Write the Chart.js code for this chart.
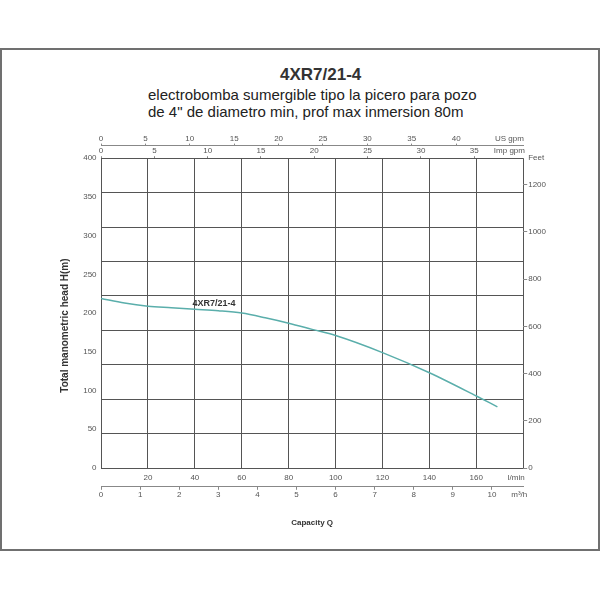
<!DOCTYPE html>
<html>
<head>
<meta charset="utf-8">
<script src="https://cdn.jsdelivr.net/npm/chart.js@4.4.0/dist/chart.umd.min.js"></script>
<style>
  html, body { margin: 0; padding: 0; background: #fff; }
  .page { position: relative; width: 600px; height: 600px; font-family: "Liberation Sans", Arial, sans-serif; }
  .frame { position: absolute; left: 0; top: 48px; width: 600px; height: 503px; border: 2px solid #707070; box-sizing: border-box; }
  .title { position: absolute; left: 280px; top: 66px; font-size: 17px; line-height: 17px; font-weight: bold; color: #333; white-space: nowrap; }
  .subtitle { position: absolute; left: 148px; top: 86px; font-size: 15px; line-height: 17px; color: #222; white-space: nowrap; }
  canvas { position: absolute; left: 0; top: 0; }
</style>
</head>
<body>
<div class="page">
  <div class="frame"></div>
  <div class="title">4XR7/21-4</div>
  <div class="subtitle">electrobomba sumergible tipo la picero para pozo<br>de 4" de diametro min, prof max inmersion 80m</div>
  <canvas id="curve" width="600" height="600"></canvas>
</div>
<script>
// pump curve
const flowLmin = [0, 10, 20, 30, 40, 50, 60, 70, 80, 90, 100, 120, 140, 160, 169];
const headM = [219, 213, 209, 207, 205, 203, 200, 194, 187, 179, 171, 149, 123, 93, 79];

// tick labels
const lminTicks = [0, 20, 40, 60, 80, 100, 120, 140, 160, 180];
const m3hTicks = [0, 1, 2, 3, 4, 5, 6, 7, 8, 9, 10];
const usGpmTicks = [0, 5, 10, 15, 20, 25, 30, 35, 40];
const impGpmTicks = [0, 5, 10, 15, 20, 25, 30, 35];
const headTicks = [0, 50, 100, 150, 200, 250, 300, 350, 400];
const feetTicks = [0, 200, 400, 600, 800, 1000, 1200];
const gridRows = 9;

const Q_MAX = 180;
const H_MAX = 400;
const L_PER_USGAL = 3.785;
const L_PER_IMPGAL = 4.546;
const FT_PER_M = 3.28084;

const GRID = '#555';
const FONT = '"Liberation Sans", Arial, sans-serif';

Chart.defaults.font.family = FONT;
Chart.defaults.font.size = 8;
Chart.defaults.color = '#555';

const setTicks = (values, unit) => (scale) => {
  scale.ticks = values.map((v) => ({ value: v }));
  if (unit) scale.ticks.push({ value: unit.at, unit: unit.text });
};
const unitLabel = (v, i, ticks) => ticks[i].unit || v;
const tickColor = (c) => (c.tick && c.tick.unit ? 'rgba(0,0,0,0)' : '#888');

const curveLabel = {
  id: 'curveLabel',
  afterDatasetsDraw(chart) {
    const { ctx, scales } = chart;
    ctx.save();
    ctx.font = `bold 9px ${FONT}`;
    ctx.fillStyle = '#333';
    ctx.textBaseline = 'middle';
    ctx.fillText('4XR7/21-4', scales.x.getPixelForValue(39), scales.y.getPixelForValue(213));
    ctx.restore();
  }
};

new Chart(document.getElementById('curve'), {
  type: 'line',
  data: {
    datasets: [{
      data: flowLmin.map((q, i) => ({ x: q, y: headM[i] })),
      xAxisID: 'x',
      yAxisID: 'y',
      borderColor: '#5aaeab',
      borderWidth: 1.5,
      pointRadius: 0,
      cubicInterpolationMode: 'monotone'
    }]
  },
  options: {
    responsive: false,
    animation: false,
    layout: { padding: { left: 50, right: 53, top: 134, bottom: 72 } },
    plugins: { legend: { display: false }, tooltip: { enabled: false } },
    scales: {
      x: {
        type: 'linear', position: 'bottom', weight: 1, min: 0, max: Q_MAX,
        afterBuildTicks: setTicks(lminTicks, { at: 177, text: 'l/min' }),
        ticks: {
          autoSkip: false, maxRotation: 0, padding: 4.6,
          callback: (v, i, t) => t[i].unit || (v === 0 || v === Q_MAX ? '' : v)
        },
        grid: { color: (c) => (c.tick && c.tick.unit ? 'rgba(0,0,0,0)' : GRID), drawTicks: false, tickLength: 0 },
        border: { display: false }
      },
      x4: {
        type: 'linear', position: 'bottom', weight: 2, min: 0, max: Q_MAX * 0.06,
        afterBuildTicks: setTicks(m3hTicks, { at: 10.7, text: 'm³/h' }),
        ticks: { autoSkip: false, maxRotation: 0, padding: 0, callback: unitLabel },
        grid: { drawOnChartArea: false, tickLength: 3, color: tickColor },
        border: { display: true, color: '#888' },
        title: { display: true, text: 'Capacity Q', color: '#333', font: { size: 8, weight: 'bold' }, padding: { top: 19, bottom: 0 } }
      },
      x3: {
        type: 'linear', position: 'top', weight: 1, min: 0, max: Q_MAX / L_PER_IMPGAL,
        afterBuildTicks: setTicks(impGpmTicks, { at: 38.3, text: 'Imp gpm' }),
        ticks: { autoSkip: false, maxRotation: 0, padding: 0.5, callback: unitLabel },
        grid: { drawOnChartArea: false, tickLength: 2, color: tickColor },
        border: { display: false }
      },
      x2: {
        type: 'linear', position: 'top', weight: 2, min: 0, max: Q_MAX / L_PER_USGAL,
        afterBuildTicks: setTicks(usGpmTicks, { at: 46, text: 'US gpm' }),
        ticks: { autoSkip: false, maxRotation: 0, padding: 0, callback: unitLabel },
        grid: { drawOnChartArea: false, tickLength: 2, color: tickColor },
        border: { display: true, color: '#888' }
      },
      y: {
        type: 'linear', position: 'left', weight: 1, min: 0, max: H_MAX,
        afterBuildTicks: setTicks(headTicks),
        ticks: { padding: 4.5 },
        grid: { display: false, drawTicks: false, tickLength: 0 },
        border: { display: false },
        // trailing spaces push the visible text a little below the axis middle, as in the original
        title: { display: true, text: 'Total manometric head H(m)         ', color: '#333', font: { size: 10, weight: 'bold' }, padding: { top: 9, bottom: 7.7 } }
      },
      yg: {
        type: 'linear', position: 'left', weight: 0, min: 0, max: gridRows,
        ticks: { display: false, stepSize: 1 },
        grid: { color: GRID, drawTicks: false, tickLength: 0 },
        border: { display: false }
      },
      yf: {
        type: 'linear', position: 'right', min: 0, max: H_MAX * FT_PER_M,
        afterBuildTicks: setTicks(feetTicks, { at: H_MAX * FT_PER_M, text: 'Feet' }),
        ticks: { autoSkip: false, padding: 1, callback: unitLabel },
        grid: { drawOnChartArea: false, tickLength: 4, color: tickColor },
        border: { display: false }
      }
    }
  },
  plugins: [curveLabel]
});
</script>
</body>
</html>
